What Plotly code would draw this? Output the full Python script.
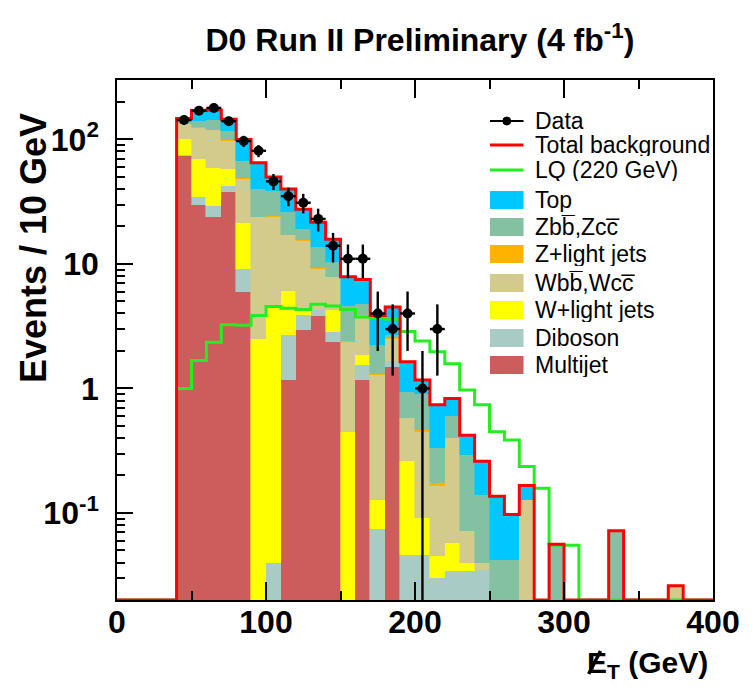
import numpy as np
import plotly.graph_objects as go

# ---------------- data: 10 GeV bins of missing ET, first bin starts at 40 GeV ----------------
first_bin = 40
bin_width = 10
x_max = 400

# background components (events / bin), bins 40-50, 50-60, ..., 390-400
multijet = [74, 29.6, 23.8, 38, 5.9, 0, 0, 1.17, 2.93, 3.8, 2.36, 0, 1.17, 0, 1.5, 0, 0, 0,
            0, 0, 0, 0, 0, 0, 0, 0, 0, 0, 0, 0, 0, 0, 0, 0, 0, 0]
diboson = [1, 4.6, 5.2, 4, 3.2, 0, 0.04, 1.5, 0.93, 0.44, 0.48, 0, 0.37, 0.074, 0.15, 0.046, 0.046, 0.03,
           0.034, 0.034, 0.035, 0, 0, 0, 0, 0, 0, 0, 0, 0, 0, 0, 0, 0, 0, 0]
w_light = [25, 35.8, 30, 16, 12.4, 2.5, 4.56, 3.43, 0.54, 0.06, 1.4, 0.45, 0.31, 0.054, 0, 0.214, 0.045, 0.015,
           0.023, 0.006, 0, 0, 0, 0, 0, 0, 0, 0, 0, 0, 0, 0, 0, 0, 0, 0]
w_bb = [32, 54, 59, 40, 27, 21.1, 19.2, 10.9, 11, 4.8, 3.56, 1.91, 2.01, 1.152, 0.85, 0.315, 0.359, 0.12,
        0.343, 0.031, 0.005, 0, 0, 0.128, 0, 0, 0, 0, 0, 0, 0, 0, 0, 0.026, 0, 0]
z_light = [1, 1, 1, 1, 0.5, 0.4, 0.3, 0.2, 0.1, 0.1, 0.05, 0.04, 0.04, 0.02, 0.05, 0.005, 0.01, 0.01,
           0, 0, 0, 0, 0, 0, 0, 0, 0, 0, 0, 0, 0, 0, 0, 0, 0, 0]
z_bb = [7, 15, 23, 18, 18, 16, 14.5, 8.8, 3.5, 4.5, 2.45, 2.2, 0.9, 0.92, 0.15, 0.35, 0.45, 0.155,
        0.2, 0.219, 0.1, 0.042, 0.042, 0, 0, 0.056, 0, 0, 0, 0.072, 0, 0, 0, 0, 0, 0]
top = [7, 31, 30, 28, 33, 25, 11.4, 14, 8.5, 7.9, 5.5, 3.3, 2.7, 1.64, 1.8, 0.71, 0.26, 0.41,
       0.23, 0.13, 0.12, 0.094, 0.055, 0.038, 0, 0, 0, 0, 0, 0, 0, 0, 0, 0, 0, 0]

# observed data (events / bin)
data_counts = [143, 170, 179, 140, 97, 81, 46, 35, 31, 23, 14, 11, 11, 4, 3, 4, 1, 3,
               0, 0, 0, 0, 0, 0, 0, 0, 0, 0, 0, 0, 0, 0, 0, 0, 0, 0]

# LQ (220 GeV) signal expectation
lq_signal = [1.0, 1.68, 2.35, 3.25, 3.22, 3.86, 4.55, 4.4, 4.3, 4.75, 4.6, 4.3, 3.74, 3.7, 3.6, 2.86, 2.4, 1.97,
             1.58, 0.97, 0.74, 0.45, 0.385, 0.236, 0.158, 0.055, 0.055, 0, 0, 0, 0, 0, 0, 0, 0, 0]

x_ticks = [0, 100, 200, 300, 400]
x_minor_ticks = [50, 150, 250, 350]
y_ticks = [0.1, 1, 10, 100]
y_tick_text = ["10<sup>-1</sup>", "1", "10", "10<sup>2</sup>"]
y_range = [0.02, 300]

# ---------------- layout geometry ----------------
W, H = 752, 690
L, R, T, B = 117, 31, 80, 90
PW, PH = W - L - R, H - T - B
FONT = "Liberation Sans, Arial, Helvetica, sans-serif"


def px(xp):
    return (xp - L) / PW


def py(yp):
    return (H - B - yp) / PH


n = len(multijet)
centers = [first_bin + bin_width * (i + 0.5) for i in range(n)]
n_pad = first_bin // bin_width
edges = list(range(0, x_max + bin_width, bin_width))

ZBB = "Zbb\u0305,Zcc\u0305"
WBB = "Wbb\u0305,Wcc\u0305"
components = [
    ("Multijet", multijet, "#cd5c5c"),
    ("Diboson", diboson, "#a9cbc6"),
    ("W+light jets", w_light, "#ffff00"),
    (WBB, w_bb, "#d3cb8b"),
    ("Z+light jets", z_light, "#ffb300"),
    (ZBB, z_bb, "#84c1a2"),
    ("Top", top, "#00c8ff"),
]

fig = go.Figure()
for name, vals, col in components:
    fig.add_trace(go.Bar(x=centers, y=vals, width=bin_width, name=name,
                         marker=dict(color=col, line=dict(color=col, width=0.6)),
                         showlegend=False, hoverinfo="skip"))

total_bkg = np.sum([np.array(v, dtype=float) for _, v, _ in components], axis=0)


def outline(vals):
    full = [0.0] * n_pad + list(vals)
    yy = [v if v > 0 else y_range[0] for v in full]
    yy.append(yy[-1])
    return edges, yy


ex, ey = outline(lq_signal)
fig.add_trace(go.Scatter(x=ex, y=ey, mode="lines", line=dict(color="#22ee22", width=3, shape="hv"),
                         showlegend=False, hoverinfo="skip"))
ex, ey = outline(total_bkg)
fig.add_trace(go.Scatter(x=ex, y=ey, mode="lines", line=dict(color="#ff0000", width=3, shape="hv"),
                         showlegend=False, hoverinfo="skip"))

dx = [c for c, d in zip(centers, data_counts) if d > 0]
dy = [d for d in data_counts if d > 0]
fig.add_trace(go.Scatter(
    x=dx, y=dy, mode="markers",
    marker=dict(color="black", size=10, symbol="circle"),
    error_y=dict(type="data", array=[np.sqrt(v) for v in dy], color="black", thickness=2.4, width=0),
    error_x=dict(type="constant", value=bin_width / 2, color="black", thickness=2.4, width=0),
    showlegend=False, hoverinfo="skip"))

# ---------------- manual legend ----------------
shapes = []
annotations = []
leg_x0, leg_x1, leg_tx = 495, 529, 539
leg_font = dict(family=FONT, size=23, color="black")
line_items = [("Data", 121, "black"), ("Total background", 145, "#ff0000"), ("LQ (220 GeV)", 170, "#22ee22")]
for label, yc, col in line_items:
    shapes.append(dict(type="line", xref="paper", yref="paper", x0=px(leg_x0), x1=px(leg_x1),
                       y0=py(yc), y1=py(yc), line=dict(color=col, width=3 if col != "black" else 2)))
    annotations.append(dict(text=label, xref="paper", yref="paper", x=px(leg_tx), y=py(yc),
                            xanchor="left", yanchor="middle", showarrow=False, font=leg_font,
                            height=22, valign="middle"))
shapes.append(dict(type="circle", xref="paper", yref="paper", x0=px(508), x1=px(516),
                   y0=py(125), y1=py(117), fillcolor="black", line=dict(color="black", width=1)))
box_items = [("Top", 200), (ZBB, 227), ("Z+light jets", 254), (WBB, 283),
             ("W+light jets", 310), ("Diboson", 338), ("Multijet", 365)]
col_of = {name: col for name, _, col in components}
for label, yc in box_items:
    shapes.append(dict(type="rect", xref="paper", yref="paper", x0=px(leg_x0), x1=px(leg_x1),
                       y0=py(yc + 9), y1=py(yc - 9), fillcolor=col_of[label], line=dict(width=0)))
    annotations.append(dict(text=label, xref="paper", yref="paper", x=px(leg_tx), y=py(yc),
                            xanchor="left", yanchor="middle", showarrow=False, font=leg_font,
                            height=24, valign="middle"))

# axis titles
annotations.append(dict(text="Events / 10 GeV", xref="paper", yref="paper", x=px(33), y=py(248),
                        textangle=-90, showarrow=False, xanchor="center", yanchor="middle",
                        font=dict(family=FONT, size=36, color="black", weight="bold")))
xt_font = dict(family=FONT, size=30, color="black", weight="bold")
annotations.append(dict(text="E<sub>T</sub> (GeV)", xref="paper", yref="paper", x=px(591), y=py(664),
                        showarrow=False, xanchor="left", yanchor="middle", font=xt_font))
# slash through the E (missing transverse energy symbol)
shapes.append(dict(type="line", xref="paper", yref="paper", x0=px(595), y0=py(674), x1=px(607), y1=py(651),
                   line=dict(color="black", width=3.5)))

minor_y = [k * 10.0 ** e for e in range(-2, 3) for k in range(2, 10)
           if y_range[0] <= k * 10.0 ** e <= y_range[1]]

tickfont = dict(family=FONT, size=32, color="black", weight="bold")
fig.update_layout(
    width=W, height=H, margin=dict(l=L, r=R, t=T, b=B),
    paper_bgcolor="white", plot_bgcolor="white",
    barmode="stack", bargap=0, showlegend=False,
    title=dict(text="D0 Run II Preliminary (4 fb<sup>-1</sup>)", x=px(424), xref="paper", xanchor="center",
               y=1 - 40 / H, yref="container", yanchor="middle",
               font=dict(family=FONT, size=32, color="black", weight="bold")),
    xaxis=dict(range=[0, x_max], tickmode="array", tickvals=x_ticks, ticks="inside", ticklen=18,
               tickwidth=1.5, tickcolor="black", showline=True, linecolor="black", linewidth=1.5,
               mirror="ticks", showgrid=False, zeroline=False, tickfont=tickfont, ticklabelstandoff=-7,
               minor=dict(tickmode="array", tickvals=x_minor_ticks, ticks="inside", ticklen=9,
                          tickwidth=1.5, tickcolor="black", showgrid=False)),
    yaxis=dict(type="log", range=[np.log10(y_range[0]), np.log10(y_range[1])], tickmode="array",
               tickvals=y_ticks, ticktext=y_tick_text, ticks="inside", ticklen=16, tickwidth=1.5,
               tickcolor="black", showline=True, linecolor="black", linewidth=1.5, mirror=True,
               showgrid=False, zeroline=False, tickfont=tickfont, ticklabelstandoff=10,
               minor=dict(tickmode="array", tickvals=minor_y, ticks="inside", ticklen=8, tickwidth=1.5,
                          tickcolor="black", showgrid=False)),
    shapes=shapes, annotations=annotations,
)

fig.write_html("out.html")
